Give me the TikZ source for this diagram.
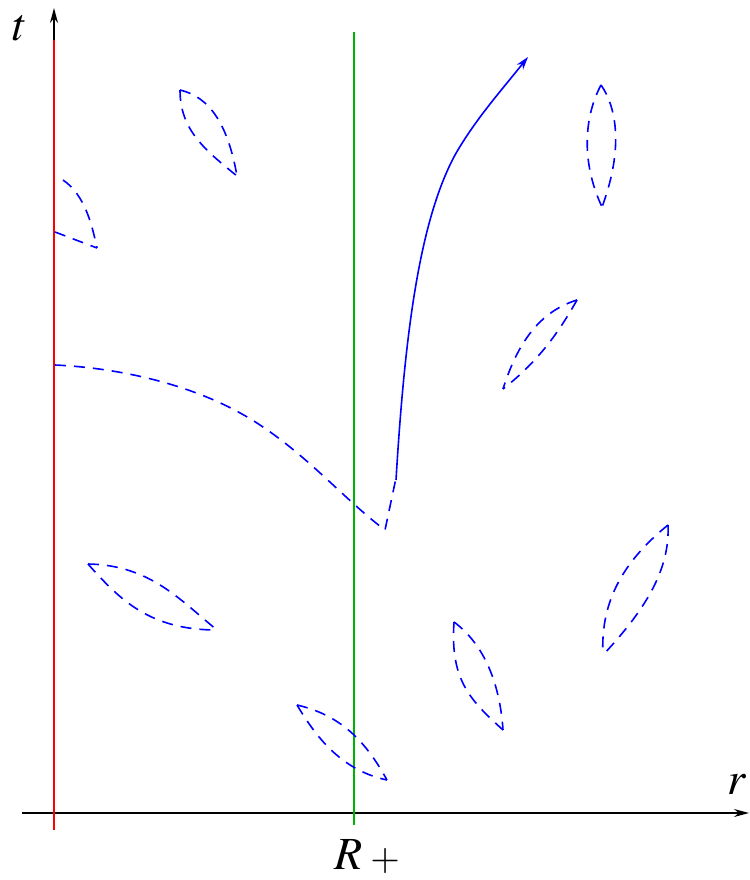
\documentclass[tikz,border=0pt]{standalone}
\usepackage{mathptmx}
\usetikzlibrary{arrows.meta}
\begin{document}
\begin{tikzpicture}[x=1pt,y=-1pt,
  axis/.style={line width=1.4pt,-{Stealth[length=15pt,width=8pt]}},
  wl/.style={blue,line width=1.6pt,dash pattern=on 11pt off 8pt},
  lbl/.style={font=\fontsize{46}{52}\selectfont,inner sep=0pt}]
\useasboundingbox (0,0) rectangle (749,880);
% axes
\draw[axis] (54,828) -- (54,8);
\draw[axis] (22,813) -- (749,813);
\draw[red,line width=1.6pt] (54,830) -- (54,40);
\draw[green!70!black,line width=1.6pt] (354,825) -- (354,32);
\node[lbl] (t) at (20,28) {$t$};
\node[lbl] (r) at (737,784) {$r$};
\node[lbl,anchor=base west] (R) at (334,869) {$R$\hspace{8pt}\raisebox{-1pt}{\fontsize{38}{40}\selectfont$+$}};
% lenses
\draw[wl] (180,90) .. controls (210,97) and (228,125) .. (237,176);
\draw[wl] (180,90) .. controls (180,130) and (205,150) .. (237,176);
\draw[wl] (63,180) .. controls (85,195) and (92,225) .. (97,248);
\draw[wl] (55,232) -- (97,248);
\draw[wl] (601,85) .. controls (615,105) and (625,145) .. (602,207);
\draw[wl] (601,85) .. controls (585,115) and (580,160) .. (602,207);
\draw[wl] (577,300) .. controls (545,310) and (520,335) .. (503,389);
\draw[wl] (577,300) .. controls (560,330) and (540,360) .. (503,389);
\draw[wl] (88,564) .. controls (150,565) and (180,600) .. (217,630);
\draw[wl] (88,564) .. controls (120,600) and (150,630) .. (217,630);
\draw[wl] (668,525) .. controls (670,570) and (645,610) .. (603,655);
\draw[wl] (668,525) .. controls (625,560) and (600,600) .. (603,655);
\draw[wl] (454,622) .. controls (485,645) and (500,685) .. (503,730);
\draw[wl] (454,622) .. controls (450,680) and (470,700) .. (503,730);
\draw[wl] (297,705) .. controls (340,715) and (365,740) .. (387,780);
\draw[wl] (297,705) .. controls (315,735) and (340,770) .. (387,780);
% world line
\draw[wl] (55,365) .. controls (120,368) and (200,385) .. (260,425)
  .. controls (310,458) and (345,500) .. (385,530) -- (396,478);
\draw[blue,line width=1.6pt,-{Stealth[length=13pt,width=8pt]}]
  (396,480) .. controls (405,330) and (420,220) .. (455,155)
  .. controls (475,120) and (500,92) .. (528,57);
\end{tikzpicture}
\end{document}
